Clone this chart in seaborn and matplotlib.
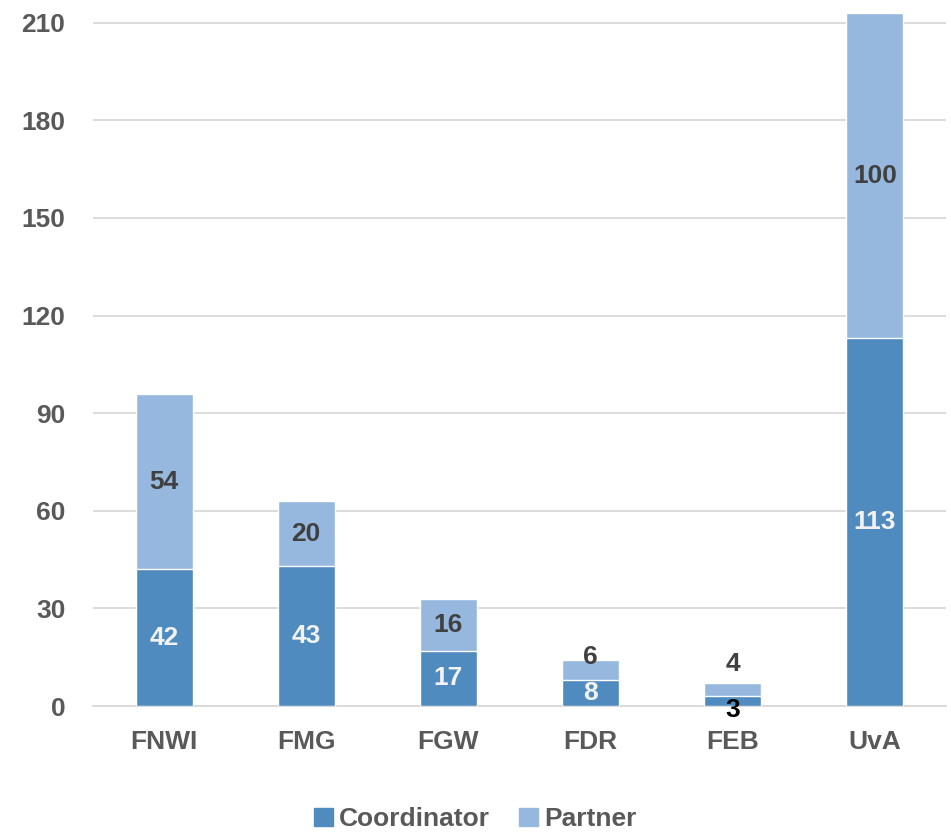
import numpy as np
import pandas as pd
import matplotlib.pyplot as plt
import seaborn as sns
from matplotlib.patches import Patch

# data
faculties = ['FNWI', 'FMG', 'FGW', 'FDR', 'FEB', 'UvA']
coordinator = [42, 43, 17, 8, 3, 113]
partner = [54, 20, 16, 6, 4, 100]

df = pd.DataFrame({'faculty': faculties, 'Coordinator': coordinator, 'Partner': partner})
df['total'] = df['Coordinator'] + df['Partner']

sns.set_style('white')
plt.rcParams['font.family'] = ['Liberation Sans', 'DejaVu Sans']

c_coord = '#4F8BBF'
c_part = '#97B8DE'
grey = '#595959'
fs = 19

fig = plt.figure(figsize=(9.51, 8.35), dpi=100)
ax = fig.add_axes([93 / 951, 129 / 835, 853 / 951, 693 / 835])

# stacked bars: total first (partner colour), coordinator on top
sns.barplot(data=df, x='faculty', y='total', color=c_part, width=0.4,
            saturation=1, ax=ax, zorder=2)
sns.barplot(data=df, x='faculty', y='Coordinator', color=c_coord, width=0.4,
            saturation=1, ax=ax, zorder=3)

ax.set_ylim(0, 213)
ax.set_xlim(-0.5, 5.5)
ax.set_yticks(np.arange(0, 211, 30))
ax.yaxis.grid(True, color='#D9D9D9', linewidth=1.3, zorder=0)
ax.set_axisbelow(True)
for s in ['top', 'right', 'left']:
    ax.spines[s].set_visible(False)
ax.spines['bottom'].set_color('#D9D9D9')
ax.spines['bottom'].set_linewidth(1.3)
ax.set_xlabel('')
ax.set_ylabel('')
ax.tick_params(axis='both', length=0, labelsize=fs, labelcolor=grey)
ax.tick_params(axis='y', pad=20)
ax.tick_params(axis='x', pad=17)
for lab in ax.get_xticklabels() + ax.get_yticklabels():
    lab.set_fontweight('bold')

# value labels
for i, row in df.iterrows():
    c, p = row['Coordinator'], row['Partner']
    yc = c / 2
    yp = c + p / 2
    col_c = '#F2F2F2'
    if row['faculty'] == 'FDR':
        yp = 15
    if row['faculty'] == 'FEB':
        yc = -1.2
        yp = 13
        col_c = '#000000'
    ax.text(i, yc, str(c), ha='center', va='center', fontsize=fs,
            fontweight='bold', color=col_c, zorder=5)
    ax.text(i, yp, str(p), ha='center', va='center', fontsize=fs,
            fontweight='bold', color='#404040', zorder=5)

handles = [Patch(color=c_coord, label='Coordinator'), Patch(color=c_part, label='Partner')]
leg = fig.legend(handles=handles, loc='center', bbox_to_anchor=(0.5, 16 / 835), ncol=2,
                 frameon=False, handlelength=0.7, handleheight=0.7, handletextpad=0.25,
                 columnspacing=1.1, prop={'size': fs, 'weight': 'bold'})
for t in leg.get_texts():
    t.set_color(grey)

fig.savefig('out.png', dpi=100)
